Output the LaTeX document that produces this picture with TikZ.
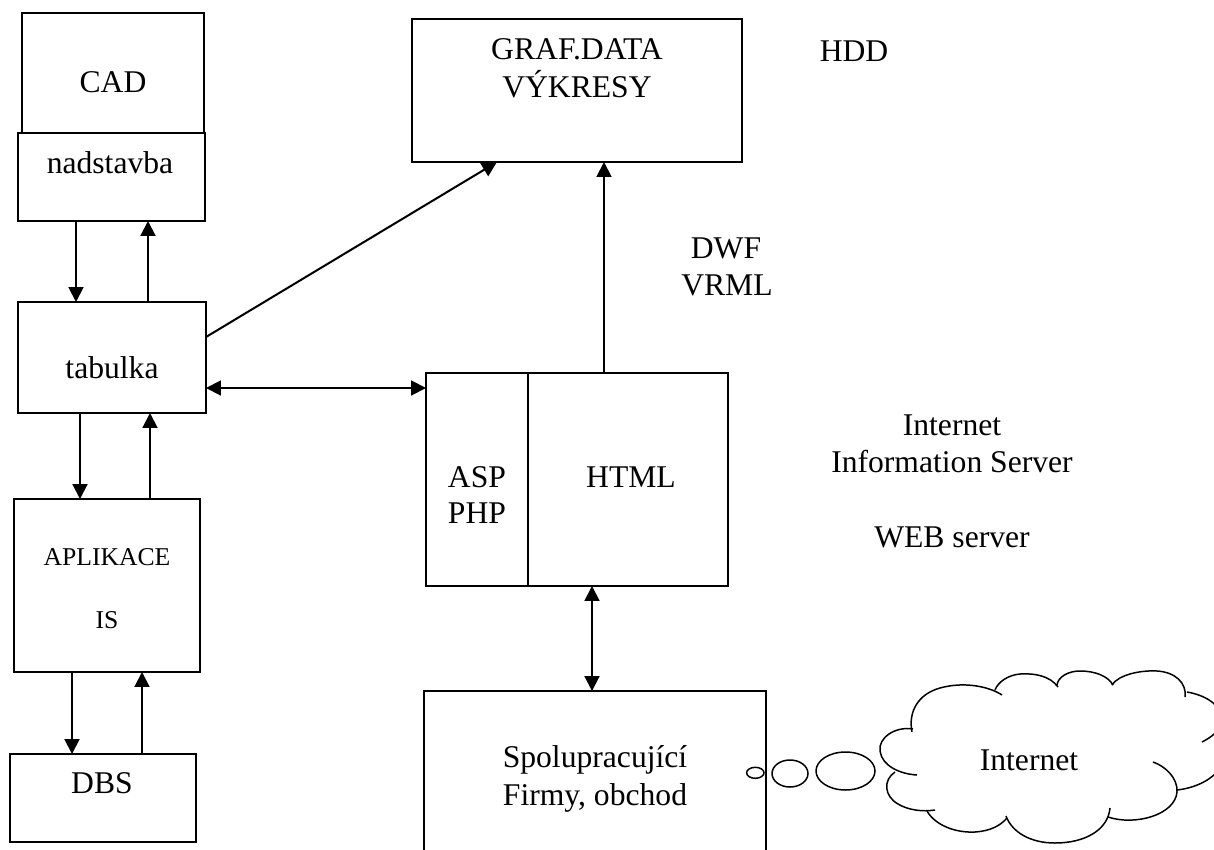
\documentclass[tikz,border=0pt]{standalone}
\usepackage{fontspec}
\setmainfont{Liberation Serif}
\usetikzlibrary{arrows.meta,fit,shapes.geometric}
\begin{document}
\begin{tikzpicture}[x=0.02cm,y=-0.02cm,
  box/.style={draw,line width=0.8pt,inner sep=0pt,outer sep=0pt},
  txt/.style={anchor=base,inner sep=0pt,font=\fontsize{18}{20.5}\selectfont},
  stxt/.style={anchor=base,inner sep=0pt,font=\fontsize{14.6}{17}\selectfont},
  arr/.style={line width=1.15pt,-{Triangle[length=8.5pt,width=8.5pt]}},
  darr/.style={line width=1.15pt,{Triangle[length=8.5pt,width=8.5pt]}-{Triangle[length=8.5pt,width=8.5pt]}},
  lobe/.style={line width=0.85pt},
  bubble/.style={draw,ellipse,line width=0.85pt,inner sep=0pt,fill=white}]
\useasboundingbox (0,0) rectangle (1214,849);
\clip (0,0) rectangle (1214,849);

% boxes
\node[box,fit={(22,13) (204,133)}] (cad) {};
\node[box,fit={(18,133) (205,221)}] (nad) {};
\node[box,fit={(18,302) (206,413)}] (tab) {};
\node[box,fit={(14,499) (200,672)}] (app) {};
\node[box,fit={(10,754) (196,842)}] (dbs) {};
\node[box,fit={(412,19) (742,162)}] (graf) {};
\node[box,fit={(426,373) (528,586)}] (asp) {};
\node[box,fit={(528,373) (728,586)}] (html) {};
\node[box,fit={(424,691) (766,900)}] (spolu) {};

% texts
\node[txt] (tcad) at (113,92) {CAD};
\node[txt] (tnad) at (110,173) {nadstavba};
\node[txt] (ttab) at (112,378) {tabulka};
\node[stxt] (tapp) at (107,565) {APLIKACE};
\node[stxt] (tis) at (107,628) {IS};
\node[txt] (tdbs) at (102,793) {DBS};
\node[txt] (tgraf) at (577,59) {GRAF.DATA};
\node[txt] (tvyk) at (577,97) {VÝKRESY};
\node[txt] (tasp) at (477,487) {ASP};
\node[txt] (tphp) at (477,523) {PHP};
\node[txt] (thtml) at (631,487) {HTML};
\node[txt] (tsp1) at (595,767) {Spolupracující};
\node[txt] (tsp2) at (595,805) {Firmy, obchod};
\node[txt] (thdd) at (854,61) {HDD};
\node[txt] (tdwf) at (726,258) {DWF};
\node[txt] (tvrml) at (727,295) {VRML};
\node[txt] (tiis1) at (952,435) {Internet};
\node[txt] (tiis2) at (952,472) {Information Server};
\node[txt] (tweb) at (952,547) {WEB server};

% helper coordinates
\coordinate (x76) at (76,0);
\coordinate (x148) at (148,0);
\coordinate (x80) at (80,0);
\coordinate (x150) at (150,0);
\coordinate (x72) at (72,0);
\coordinate (x142) at (142,0);
\coordinate (x497) at (497,0);
\coordinate (x604) at (604,0);
\coordinate (x592) at (592,0);
\coordinate (y337) at (0,337);
\coordinate (y388) at (0,388);

% connectors
\draw[arr] (nad.south -| x76) -- (tab.north -| x76);
\draw[arr] (tab.north -| x148) -- (nad.south -| x148);
\draw[arr] (tab.south -| x80) -- (app.north -| x80);
\draw[arr] (app.north -| x150) -- (tab.south -| x150);
\draw[arr] (app.south -| x72) -- (dbs.north -| x72);
\draw[arr] (dbs.north -| x142) -- (app.south -| x142);
\draw[arr] (tab.east |- y337) -- (graf.south -| x497);
\draw[darr] (tab.east |- y388) -- (asp.west |- y388);
\draw[arr] (html.north -| x604) -- (graf.south -| x604);
\draw[darr] (html.south -| x592) -- (spolu.north -| x592);

% cloud
\draw[lobe] (913,729) .. controls (895,726) and (878,738) .. (880,751)
  .. controls (882,766) and (900,774) .. (917,775);
\draw[lobe] (895,772) .. controls (883,780) and (884,796) .. (898,804)
  .. controls (908,810) and (922,812) .. (935,810);
\draw[lobe] (927,811) .. controls (935,825) and (955,833) .. (975,832)
  .. controls (990,831) and (1000,826) .. (1007,818);
\draw[lobe] (1006,816) .. controls (1012,832) and (1030,843) .. (1055,843)
  .. controls (1085,843) and (1108,830) .. (1110,808);
\draw[lobe] (1108,817) .. controls (1135,826) and (1175,815) .. (1177,792)
  .. controls (1178,778) and (1165,766) .. (1153,762);
\draw[lobe] (1177,790) .. controls (1195,788) and (1212,780) .. (1220,768)
  .. controls (1226,758) and (1226,750) .. (1222,744);
\draw[lobe] (1187,692) .. controls (1205,695) and (1222,705) .. (1222,720)
  .. controls (1222,730) and (1210,738) .. (1202,742);
\draw[lobe] (1185,697) .. controls (1187,683) and (1175,672) .. (1157,671)
  .. controls (1140,670) and (1118,675) .. (1112,685);
\draw[lobe] (1113,685) .. controls (1108,676) and (1095,671) .. (1080,671)
  .. controls (1068,671) and (1058,677) .. (1057,685);
\draw[lobe] (1058,687) .. controls (1050,676) and (1035,673) .. (1020,674)
  .. controls (1008,675) and (998,682) .. (995,690);
\draw[lobe] (912,732) .. controls (908,712) and (918,694) .. (940,688)
  .. controls (965,681) and (990,687) .. (1002,695);
\node[txt] (tnet) at (1029,770) {Internet};

% thought bubbles
\node[bubble,minimum width=0.348cm,minimum height=0.22cm] (b1) at (755.3,772.8) {};
\node[bubble,minimum width=0.72cm,minimum height=0.54cm] (b2) at (790,773.5) {};
\node[bubble,minimum width=1.18cm,minimum height=0.76cm] (b3) at (845.5,771) {};
\end{tikzpicture}
\end{document}
